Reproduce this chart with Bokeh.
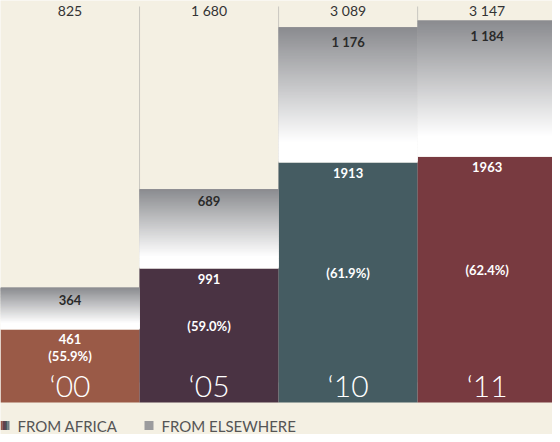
import numpy as np
from bokeh.plotting import figure
from bokeh.models import Range1d
from bokeh.core.properties import value
from bokeh.embed import file_html
from bokeh.resources import INLINE

# ---- data ----
years = ["\u201800", "\u201805", "\u201810", "\u201811"]
totals = [825, 1680, 3089, 3147]
total_labels = ["825", "1 680", "3 089", "3 147"]
africa = [461, 991, 1913, 1963]
africa_labels = ["461", "991", "1913", "1963"]
elsewhere = [364, 689, 1176, 1184]
elsewhere_labels = ["364", "689", "1 176", "1 184"]
africa_pct = ["(55.9%)", "(59.0%)", "(61.9%)", "(62.4%)"]
bar_colors = ["#9a5a47", "#4a3343", "#455c62", "#783a40"]
legend_labels = ["FROM AFRICA", "FROM ELSEWHERE"]

BG = "#f4f0e3"
FONT = value("Lato")
W, H = 552, 434
UPP = 8.696                  # data units per pixel
ZERO_PX = 382                # pixel row (from top) of value 0
PLINTH = 20                  # pixels of bar below value 0 (year label plinth)
Y1 = ZERO_PX * UPP
Y0 = -(H - ZERO_PX) * UPP
BASE = -PLINTH * UPP
X1 = 3.97
XPP = X1 / W

p = figure(width=W, height=H, x_range=Range1d(0, X1), y_range=Range1d(Y0, Y1),
           output_backend="svg", toolbar_location=None, min_border=0)
p.axis.visible = False
p.grid.visible = False
p.outline_line_color = None
p.background_fill_color = BG
p.border_fill_color = BG

xs = np.arange(len(years)) + 0.5

# separators between columns
sep_x = np.arange(1, len(years))
p.segment(x0=sep_x, y0=0, x1=sep_x, y1=Y1 - 6 * UPP, line_color="#c9c7c1", line_width=1)

# africa bars
p.vbar(x=xs, bottom=BASE, top=africa, width=1.0, fill_color=bar_colors, line_color=None)

# elsewhere bars with grey->white gradient (sliced)
N = 90
grey = np.array([138, 139, 143])
white = np.array([255, 255, 255])
lefts, rights, bots, tops, cols = [], [], [], [], []
for i in range(len(years)):
    for k in range(N):
        b = africa[i] + elsewhere[i] * k / N
        t = min(totals[i], africa[i] + elsewhere[i] * (k + 1) / N + 1.5 * UPP)
        f = (k + 0.5) / N
        g = max(0.0, (f - 0.15) / 0.85)
        c = (white + (grey - white) * g).round().astype(int)
        lefts.append(xs[i] - 0.5); rights.append(xs[i] + 0.5)
        bots.append(b); tops.append(t)
        cols.append("#%02x%02x%02x" % tuple(c))
p.quad(left=lefts, right=rights, bottom=bots, top=tops, fill_color=cols, line_color=None)

# total labels in top row
p.text(x=xs, y=[Y1 - 10 * UPP] * len(xs), text=total_labels, text_align="center",
       text_baseline="middle", text_font=FONT, text_font_size="14px", text_color="#333333")

# elsewhere labels
p.text(x=xs, y=totals, text=elsewhere_labels, y_offset=7, text_align="center",
       text_baseline="top", text_font=FONT, text_font_size="13px",
       text_font_style="bold", text_color="#2a2a2a")

# africa labels
p.text(x=xs, y=africa, text=africa_labels, y_offset=5, text_align="center",
       text_baseline="top", text_font=FONT, text_font_size="13px",
       text_font_style="bold", text_color="white")

# percentages
pct_y, pct_off = [], []
for a in africa:
    if a / UPP < 100:
        pct_y.append(a); pct_off.append(19)
    else:
        pct_y.append(a / 2); pct_off.append(0)
p.text(x=xs, y=pct_y, text=africa_pct, y_offset=pct_off, text_align="center",
       text_baseline=["top" if o else "middle" for o in pct_off],
       text_font=FONT, text_font_size="13px", text_font_style="bold", text_color="white")

# year labels
p.text(x=xs, y=[BASE] * len(xs), text=years, y_offset=-18, text_align="center",
       text_baseline="middle", text_font=value("Lato Light"), text_font_size="30px",
       text_color="white")

# legend
ly = Y0 + 9 * UPP
sq = 9
stripe_cols = ["#9a5a47", "#6a3f46", "#4a3343", "#455c62", "#6f7c84"]
stripe = sq * XPP / len(stripe_cols)
p.quad(left=[k * stripe for k in range(len(stripe_cols))],
       right=[(k + 1) * stripe for k in range(len(stripe_cols))],
       bottom=[ly - sq / 2 * UPP] * len(stripe_cols), top=[ly + sq / 2 * UPP] * len(stripe_cols),
       fill_color=stripe_cols, line_color=None)
x2 = 144 * XPP
p.quad(left=[x2], right=[x2 + sq * XPP], bottom=[ly - sq / 2 * UPP], top=[ly + sq / 2 * UPP],
       fill_color="#9b9b9d", line_color=None)
p.text(x=[17 * XPP, x2 + 17 * XPP], y=[ly, ly], text=legend_labels, text_align="left",
       text_baseline="middle", text_font=FONT, text_font_size="15px", text_color="#555555")

open("out.html", "w").write(file_html(p, INLINE))
